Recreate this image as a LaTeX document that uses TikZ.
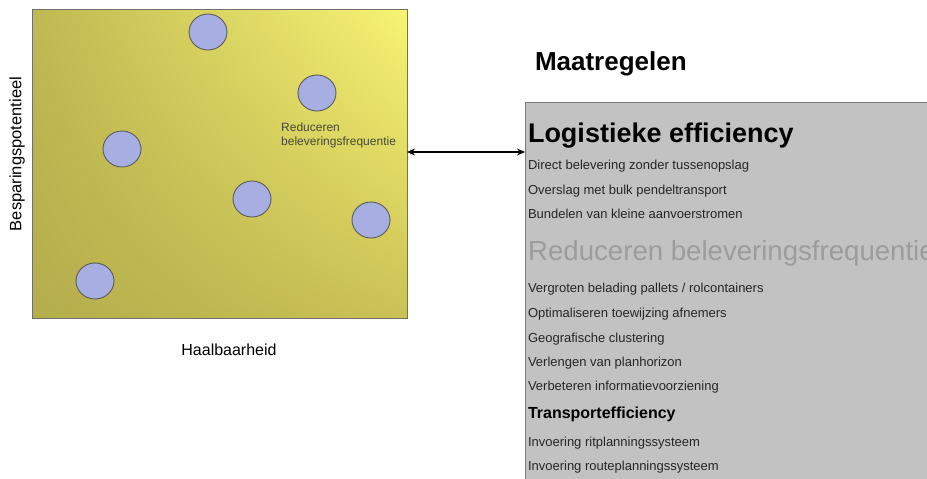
\documentclass[tikz,border=0pt]{standalone}
\usepackage{fontspec}
\setmainfont{Liberation Sans}
\usetikzlibrary{shadings,arrows.meta,shapes.geometric}
\definecolor{circfill}{HTML}{A6AEE2}
\definecolor{circline}{HTML}{5A5A5A}
\definecolor{boxline}{HTML}{707068}
\definecolor{panelfill}{HTML}{C2C2C2}
\definecolor{panelline}{HTML}{7A7A7A}
\definecolor{smalltext}{HTML}{262626}
\definecolor{fadedtext}{HTML}{9C9C9C}
\definecolor{lbltext}{HTML}{4A4838}
\tikzset{
  dot/.style={ellipse, draw=circline, line width=0.9pt, fill=circfill, minimum width=38pt, minimum height=36pt, inner sep=0pt},
  item/.style={anchor=base west, inner sep=0pt, outer sep=0pt, text=smalltext, font=\fontsize{13}{15}\selectfont},
  bighead/.style={anchor=base west, inner sep=0pt, outer sep=0pt, font=\fontsize{27}{30}\selectfont\bfseries},
  midhead/.style={anchor=base west, inner sep=0pt, outer sep=0pt, font=\fontsize{16}{19}\selectfont\bfseries},
}
\begin{document}
\begin{tikzpicture}[x=1pt,y=-1pt]
\useasboundingbox (0,0) rectangle (927,479);
\clip (0,0) rectangle (927,479);
% yellow matrix
\node[anchor=north west, draw=boxline, line width=0.8pt, minimum width=375pt, minimum height=309pt, inner sep=0pt, outer sep=0pt,
  shading=bilinear interpolation, lower left={rgb,255:red,180;green,173;blue,76}, upper left={rgb,255:red,192;green,184;blue,82},
  upper right={rgb,255:red,248;green,244;blue,116}, lower right={rgb,255:red,202;green,194;blue,86}] (matrix) at (32,9) {};
\node[dot] (c1) at (208,32) {};
\node[dot] (c2) at (317,93) {};
\node[dot] (c3) at (122,149) {};
\node[dot] (c4) at (252,199) {};
\node[dot] (c5) at (371,220) {};
\node[dot] (c6) at (95,281) {};
\node[anchor=base west, inner sep=0pt, text=lbltext, font=\fontsize{12}{14}\selectfont] (lbl1) at (281,131) {Reduceren};
\node[anchor=base west, inner sep=0pt, text=lbltext, font=\fontsize{12}{14}\selectfont] (lbl2) at (281,145) {beleveringsfrequentie};
% axis labels
\node[rotate=90, font=\fontsize{16.5}{19}\selectfont, inner sep=0pt] (ylab) at (17,154) {Besparingspotentieel};
\node[font=\fontsize{16}{19}\selectfont, inner sep=0pt] (xlab) at (229,350) {Haalbaarheid};
% title
\node[bighead, font=\fontsize{26}{30}\selectfont\bfseries] (title) at (535,70) {Maatregelen};
% panel
\node[anchor=north west, draw=panelline, line width=1pt, fill=panelfill, minimum width=420pt, minimum height=390pt, inner sep=0pt, outer sep=0pt] (panel) at (525,102) {};
% arrow
\coordinate (ay) at (0,152);
\draw[line width=1.6pt, {Stealth[length=8pt,width=7pt]}-{Stealth[length=8pt,width=7pt]}] (matrix.east |- ay) -- (panel.west |- ay);
% panel text
\node[bighead] (h1) at (528,142) {Logistieke efficiency};
\node[item] (t1) at (528,169) {Direct belevering zonder tussenopslag};
\node[item] (t2) at (528,194) {Overslag met bulk pendeltransport};
\node[item] (t3) at (528,218) {Bundelen van kleine aanvoerstromen};
\node[anchor=base west, inner sep=0pt, text=fadedtext, font=\fontsize{27.6}{30}\selectfont] (h2) at (528,260) {Reduceren beleveringsfrequentie};
\node[item] (t4) at (528,292) {Vergroten belading pallets / rolcontainers};
\node[item] (t5) at (528,317) {Optimaliseren toewijzing afnemers};
\node[item] (t6) at (528,342) {Geografische clustering};
\node[item] (t7) at (528,366) {Verlengen van planhorizon};
\node[item] (t8) at (528,390) {Verbeteren informatievoorziening};
\node[midhead] (h3) at (528,418) {Transportefficiency};
\node[item] (t9) at (528,446) {Invoering ritplanningssysteem};
\node[item] (t10) at (528,470) {Invoering routeplanningssysteem};
\end{tikzpicture}
\end{document}
